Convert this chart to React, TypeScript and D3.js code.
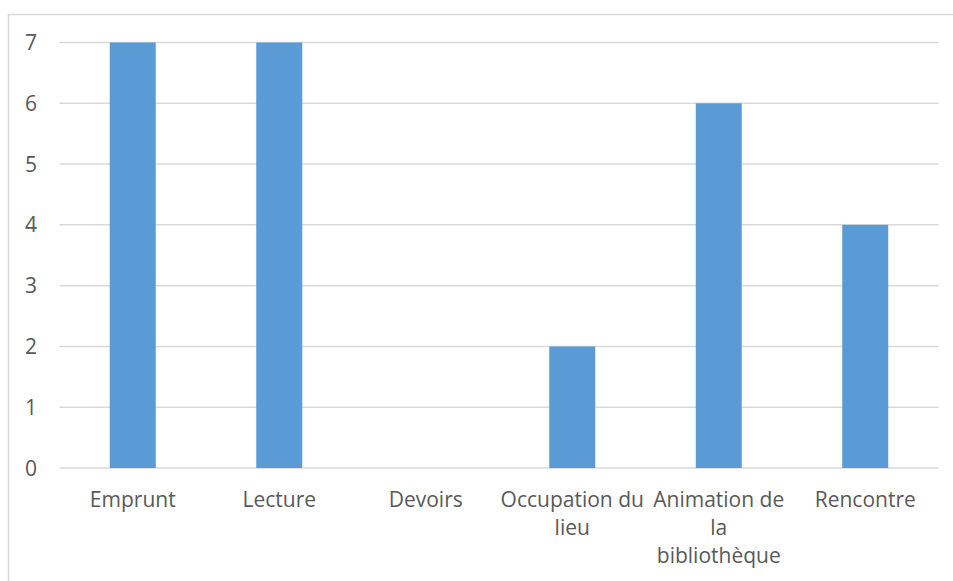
import React, { useEffect, useRef } from "react";
import * as d3 from "d3";

const categories: string[] = [
  "Emprunt",
  "Lecture",
  "Devoirs",
  "Occupation du lieu",
  "Animation de la bibliothèque",
  "Rencontre",
];
const values: number[] = [7, 7, 0, 2, 6, 4];
const yTicks: number[] = [0, 1, 2, 3, 4, 5, 6, 7];

const W = 953;
const H = 581;
const FONT = "'Open Sans', sans-serif";
const TEXT = "#595959";
const GRID = "#d9d9d9";
const BAR = "#5B9BD5";

export default function App() {
  const ref = useRef<SVGSVGElement | null>(null);

  useEffect(() => {
    const svg = d3.select(ref.current);
    svg.selectAll("*").remove();

    const x0 = 59.5, x1 = 938.5;
    const yBottom = 468, yTop = 42.5;

    const x = d3.scaleBand<string>().domain(categories).range([x0, x1]).padding(0);
    const y = d3.scaleLinear().domain([0, 7]).range([yBottom, yTop]);
    const barW = x.step() * 0.314;

    // outer frame
    svg.append("path")
      .attr("d", `M8.5,${H} L8.5,14.5 L${W},14.5`)
      .attr("fill", "none")
      .attr("stroke", GRID)
      .attr("stroke-width", 1.5);

    // gridlines
    svg.append("g")
      .selectAll("line")
      .data(yTicks)
      .join("line")
      .attr("x1", x0)
      .attr("x2", x1)
      .attr("y1", (d) => y(d))
      .attr("y2", (d) => y(d))
      .attr("stroke", GRID)
      .attr("stroke-width", 1.5);

    // y labels
    svg.append("g")
      .selectAll("text")
      .data(yTicks)
      .join("text")
      .attr("x", 37)
      .attr("y", (d) => y(d))
      .attr("dy", "0.36em")
      .attr("text-anchor", "end")
      .attr("font-family", FONT)
      .attr("font-size", 21)
      .attr("fill", TEXT)
      .text((d) => String(d));

    // bars
    svg.append("g")
      .selectAll("rect")
      .data(categories.map((c, i) => ({ c, v: values[i] })))
      .join("rect")
      .attr("x", (d) => (x(d.c) as number) + x.step() / 2 - barW / 2)
      .attr("y", (d) => y(d.v))
      .attr("width", barW)
      .attr("height", (d) => yBottom - y(d.v))
      .attr("fill", BAR);

    // x labels with wrapping
    const g = svg.append("g");
    const maxW = 144.5;
    categories.forEach((c) => {
      const cx = (x(c) as number) + x.step() / 2;
      const t = g.append("text")
        .attr("x", cx)
        .attr("y", 507)
        .attr("text-anchor", "middle")
        .attr("font-family", FONT)
        .attr("font-size", 21)
        .attr("fill", TEXT);
      const words = c.split(" ");
      let line: string[] = [];
      let lineNo = 0;
      let ts = t.append("tspan").attr("x", cx).attr("y", 507);
      for (const w of words) {
        line.push(w);
        ts.text(line.join(" "));
        const len = (ts.node() as SVGTSpanElement).getComputedTextLength();
        if (len > maxW && line.length > 1) {
          line.pop();
          ts.text(line.join(" "));
          line = [w];
          lineNo++;
          ts = t.append("tspan").attr("x", cx).attr("y", 507 + lineNo * 28).text(w);
        }
      }
    });
  }, []);

  return (
    <svg
      ref={ref}
      width={W}
      height={H}
      style={{ position: "absolute", left: 0, top: 0, background: "#fff" }}
    />
  );
}
